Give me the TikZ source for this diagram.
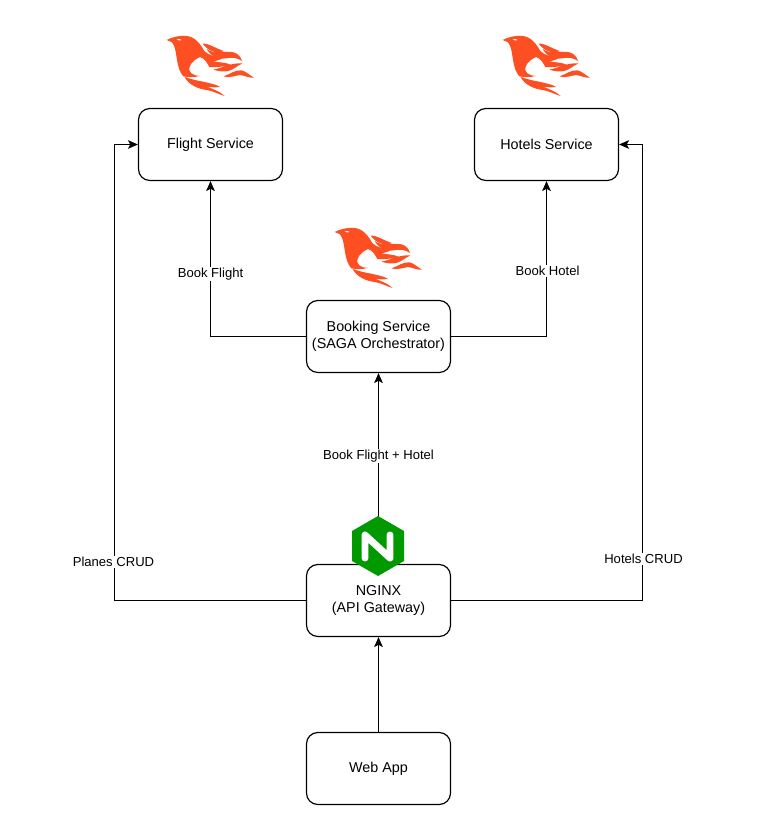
\documentclass[tikz,border=0pt]{standalone}
\usepackage{fontspec}
\setmainfont{Liberation Sans}
\usetikzlibrary{arrows.meta}
\definecolor{phx}{HTML}{FD4F21}
\definecolor{ngx}{HTML}{009900}
\tikzset{
  box/.style={draw=black,line width=0.9pt,fill=white,rounded corners=8.5pt,minimum width=108pt,minimum height=54pt,align=center,font=\fontsize{10.75}{13}\selectfont,inner sep=0pt},
  conn/.style={draw=black,line width=0.75pt,-{Stealth[length=7.5pt,width=6.5pt,inset=1.8pt]}},
  lab/.style={fill=white,font=\fontsize{9.8}{12}\selectfont,inner sep=1pt,align=center},
  phoenix/.pic={
    \begin{scope}[x=0.25pt,y=-0.25pt,shift={(-180,-105)}]
    \fill[phx] (50,45) .. controls (65,37) and (90,30) .. (110,33)
      .. controls (135,36) and (150,55) .. (163,78)
      .. controls (175,90) and (195,97) .. (222,96)
      .. controls (212,105) and (200,108) .. (190,108)
      .. controls (205,114) and (235,110) .. (252,126)
      .. controls (225,122) and (195,128) .. (178,126)
      .. controls (172,116) and (165,100) .. (150,96)
      .. controls (140,100) and (122,112) .. (118,128)
      .. controls (115,142) and (128,152) .. (150,153)
      .. controls (130,158) and (110,156) .. (100,154)
      .. controls (78,130) and (82,85) .. (72,62)
      .. controls (68,52) and (60,47) .. (50,45) -- cycle;
    \fill[white] (80,42) .. controls (86,41) and (92,42) .. (95,45) .. controls (90,48) and (84,47) .. (80,42) -- cycle;
    \fill[phx] (158,56) .. controls (175,54) and (200,72) .. (222,78) .. controls (205,88) and (175,80) .. (158,56) -- cycle;
    \fill[phx] (170,72) .. controls (195,90) and (225,76) .. (250,82) .. controls (265,86) and (272,95) .. (276,108) .. controls (262,98) and (245,96) .. (228,100) .. controls (205,104) and (182,94) .. (170,72) -- cycle;
    \fill[phx] (190,134) .. controls (215,130) and (240,113) .. (278,115) .. controls (262,122) and (250,134) .. (235,138) .. controls (220,141) and (205,139) .. (190,134) -- cycle;
    \fill[phx] (220,154) .. controls (240,148) and (255,134) .. (275,136) .. controls (290,140) and (300,152) .. (312,158) .. controls (295,159) and (285,152) .. (270,150) .. controls (255,152) and (238,160) .. (220,154) -- cycle;
    \fill[phx] (103,155) .. controls (120,162) and (145,168) .. (160,170) .. controls (180,176) and (195,176) .. (210,186) .. controls (195,188) and (180,186) .. (172,186) .. controls (190,192) and (210,200) .. (224,213) .. controls (205,208) and (190,198) .. (170,195) .. controls (145,192) and (116,180) .. (103,155) -- cycle;
    \end{scope}
  }
}
\begin{document}
\begin{tikzpicture}[x=0.75pt,y=-0.75pt]
\useasboundingbox (0,0) rectangle (765,835);
\node[box] (flight) at (210.5,144.5) {Flight Service};
\node[box] (hotels) at (546.5,144.5) {Hotels Service};
\node[box] (booking) at (378.5,336.5) {Booking Service\\(SAGA Orchestrator)};
\node[box] (nginx) at (378.5,600.5) {NGINX\\(API Gateway)};
\node[box] (web) at (378.5,768.5) {Web App};
\coordinate (pl) at (114.5,600.5);
\coordinate (pt) at (114.5,144.5);
\coordinate (hr) at (642.5,600.5);
\coordinate (ht) at (642.5,144.5);
\draw[conn] (booking.west) -| (flight.south);
\draw[conn] (booking.east) -| (hotels.south);
\draw[conn] (nginx.north) -- (booking.south);
\draw[conn] (web.north) -- (nginx.south);
\draw[conn] (nginx.west) -- (pl) -- (pt) -- (flight.west);
\draw[conn] (nginx.east) -- (hr) -- (ht) -- (hotels.east);
\node[lab] (l1) at (210.5,274) {Book Flight};
\node[lab] (l2) at (547.5,271) {Book Hotel};
\node[lab] (l3) at (378.5,456) {Book Flight + Hotel};
\node[lab] (l4) at (113.5,562) {Planes CRUD};
\node[lab] (l5) at (643.5,559) {Hotels CRUD};
\pic at (210,60) {phoenix};
\pic at (546,60) {phoenix};
\pic at (378,252) {phoenix};
\fill[ngx,line join=round] (378,516) -- (404,531) -- (404,561) -- (378,576) -- (352,561) -- (352,531) -- cycle;
\draw[white,line width=5.2pt,line join=round,line cap=round] (365,558) -- (365,535) -- (390,558) -- (390,535);
\end{tikzpicture}
\end{document}
